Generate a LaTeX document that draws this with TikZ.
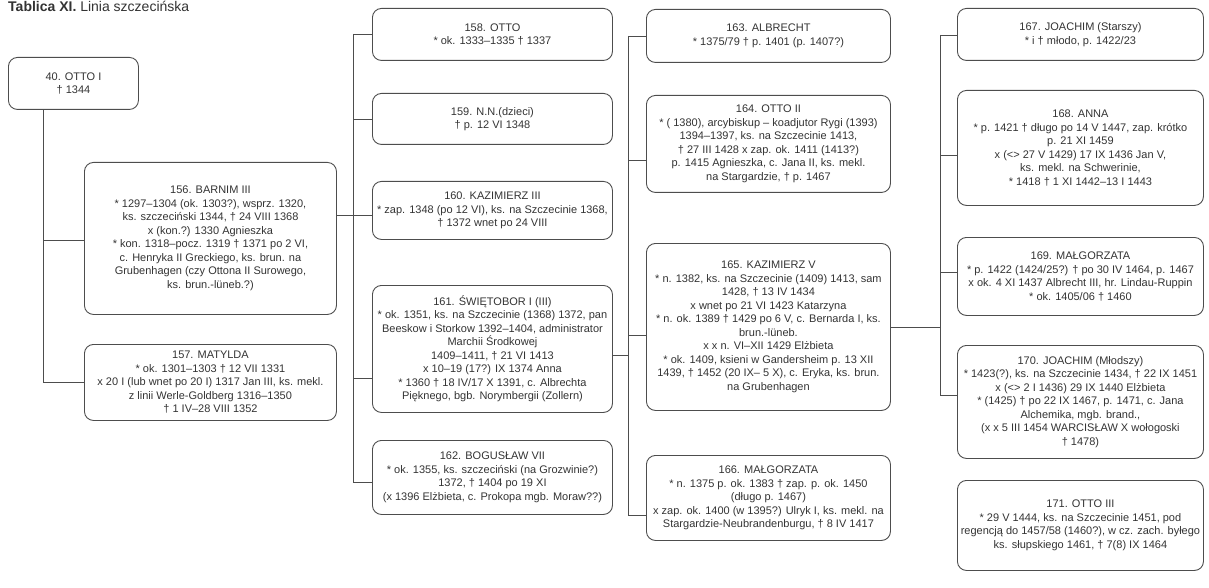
\documentclass[tikz,border=0pt]{standalone}
\usepackage{fontspec}
\setmainfont{Liberation Sans}
\definecolor{ink}{HTML}{333333}
\definecolor{edge}{HTML}{4D4D4D}
\begin{document}
\begin{tikzpicture}[x=1pt,y=-1pt,
  box/.style={draw=edge, line width=0.9pt, rounded corners=9pt, align=center, text=ink,
    font=\fontsize{11}{13.5}\selectfont, anchor=north west, inner sep=2pt},
  conn/.style={draw=edge, line width=0.9pt}]
\useasboundingbox (0,0) rectangle (1209,588);
\node[anchor=base west, font=\fontsize{14}{16}\selectfont, text=ink, inner sep=0pt] (title) at (8,12) {\textbf{Tablica XI.} Linia szczecińska};
% column 1
\node[box, minimum width=130pt, minimum height=52pt] (b40) at (8,57) {40. OTTO I\\† 1344};
\node[box, minimum width=252pt, minimum height=152pt] (b156) at (84,162) {156. BARNIM III\\* 1297–1304 (ok. 1303?), wsprz. 1320,\\ks. szczeciński 1344, † 24 VIII 1368\\x (kon.?) 1330 Agnieszka\\* kon. 1318–pocz. 1319 † 1371 po 2 VI,\\c. Henryka II Greckiego, ks. brun. na\\Grubenhagen (czy Ottona II Surowego,\\ks. brun.-lüneb.?)};
\node[box, minimum width=252pt, minimum height=76pt] (b157) at (84,344) {157. MATYLDA\\* ok. 1301–1303 † 12 VII 1331\\x 20 I (lub wnet po 20 I) 1317 Jan III, ks. mekl.\\z linii Werle-Goldberg 1316–1350\\† 1 IV–28 VIII 1352};
% column 2
\node[box, minimum width=240pt, minimum height=52pt] (b158) at (372,8) {158. OTTO\\* ok. 1333–1335 † 1337};
\node[box, minimum width=240pt, minimum height=51pt] (b159) at (372,93) {159. N.N.(dzieci)\\† p. 12 VI 1348};
\node[box, minimum width=240pt, minimum height=58pt] (b160) at (372,181) {160. KAZIMIERZ III\\* zap. 1348 (po 12 VI), ks. na Szczecinie 1368,\\† 1372 wnet po 24 VIII};
\node[box, minimum width=240pt, minimum height=127pt] (b161) at (372,285) {161. ŚWIĘTOBOR I (III)\\* ok. 1351, ks. na Szczecinie (1368) 1372, pan\\Beeskow i Storkow 1392–1404, administrator\\Marchii Środkowej\\1409–1411, † 21 VI 1413\\x 10–19 (17?) IX 1374 Anna\\* 1360 † 18 IV/17 X 1391, c. Albrechta\\Pięknego, bgb. Norymbergii (Zollern)};
\node[box, minimum width=240pt, minimum height=74pt] (b162) at (372,440) {162. BOGUSŁAW VII\\* ok. 1355, ks. szczeciński (na Grozwinie?)\\1372, † 1404 po 19 XI\\(x 1396 Elżbieta, c. Prokopa mgb. Moraw??)};
% column 3
\node[box, minimum width=244pt, minimum height=53pt] (b163) at (646,9) {163. ALBRECHT\\* 1375/79 † p. 1401 (p. 1407?)};
\node[box, minimum width=244pt, minimum height=97pt] (b164) at (646,95) {164. OTTO II\\* ( 1380), arcybiskup – koadjutor Rygi (1393)\\1394–1397, ks. na Szczecinie 1413,\\† 27 III 1428 x zap. ok. 1411 (1413?)\\p. 1415 Agnieszka, c. Jana II, ks. mekl.\\na Stargardzie, † p. 1467};
\node[box, minimum width=244pt, minimum height=167pt] (b165) at (646,243) {165. KAZIMIERZ V\\* n. 1382, ks. na Szczecinie (1409) 1413, sam\\1428, † 13 IV 1434\\x wnet po 21 VI 1423 Katarzyna\\* n. ok. 1389 † 1429 po 6 V, c. Bernarda I, ks.\\brun.-lüneb.\\x x n. VI–XII 1429 Elżbieta\\* ok. 1409, ksieni w Gandersheim p. 13 XII\\1439, † 1452 (20 IX– 5 X), c. Eryka, ks. brun.\\na Grubenhagen};
\node[box, minimum width=244pt, minimum height=85pt] (b166) at (646,455) {166. MAŁGORZATA\\* n. 1375 p. ok. 1383 † zap. p. ok. 1450\\(długo p. 1467)\\x zap. ok. 1400 (w 1395?) Ulryk I, ks. mekl. na\\Stargardzie-Neubrandenburgu, † 8 IV 1417};
% column 4
\node[box, minimum width=246pt, minimum height=52pt] (b167) at (957,8) {167. JOACHIM (Starszy)\\* i † młodo, p. 1422/23};
\node[box, minimum width=246pt, minimum height=115pt] (b168) at (957,90) {168. ANNA\\* p. 1421 † długo po 14 V 1447, zap. krótko\\p. 21 XI 1459\\x (<> 27 V 1429) 17 IX 1436 Jan V,\\ks. mekl. na Schwerinie,\\* 1418 † 1 XI 1442–13 I 1443};
\node[box, minimum width=246pt, minimum height=78pt] (b169) at (957,237) {169. MAŁGORZATA\\* p. 1422 (1424/25?) † po 30 IV 1464, p. 1467\\x ok. 4 XI 1437 Albrecht III, hr. Lindau-Ruppin\\* ok. 1405/06 † 1460};
\node[box, minimum width=246pt, minimum height=113pt] (b170) at (957,345) {170. JOACHIM (Młodszy)\\* 1423(?), ks. na Szczecinie 1434, † 22 IX 1451\\x (<> 2 I 1436) 29 IX 1440 Elżbieta\\* (1425) † po 22 IX 1467, p. 1471, c. Jana\\Alchemika, mgb. brand.,\\(x x 5 III 1454 WARCISŁAW X wołogoski\\† 1478)};
\node[box, minimum width=246pt, minimum height=90pt] (b171) at (957,480) {171. OTTO III\\* 29 V 1444, ks. na Szczecinie 1451, pod\\regencją do 1457/58 (1460?), w cz. zach. byłego\\ks. słupskiego 1461, † 7(8) IX 1464};
% connectors: 40 -> 156,157
\coordinate (j156) at (43,240);
\coordinate (j157) at (43,382);
\draw[conn] (b40.south -| j156) -- (j157) -- (b157.west |- j157);
\draw[conn] (j156) -- (b156.west |- j156);
% 156 -> 158..162
\coordinate (p156) at (353,215);
\coordinate (j158) at (353,34);
\coordinate (j159) at (353,119);
\coordinate (j160) at (353,215);
\coordinate (j161) at (353,378);
\coordinate (j162) at (353,482);
\draw[conn] (b156.east |- p156) -- (p156);
\draw[conn] (j158) -- (j162);
\foreach \n in {158,159,160,161,162} \draw[conn] (j\n) -- (b\n.west |- j\n);
% 161 -> 163..166
\coordinate (p161) at (628,355);
\coordinate (j163) at (628,36);
\coordinate (j164) at (628,160);
\coordinate (j165) at (628,335);
\coordinate (j166) at (628,515);
\draw[conn] (b161.east |- p161) -- (p161);
\draw[conn] (j163) -- (j166);
\foreach \n in {163,164,165,166} \draw[conn] (j\n) -- (b\n.west |- j\n);
% 165 -> 167..170
\coordinate (p165) at (940,327);
\coordinate (j167) at (940,35);
\coordinate (j168) at (940,155);
\coordinate (j169) at (940,272);
\coordinate (j170) at (940,395);
\draw[conn] (b165.east |- p165) -- (p165);
\draw[conn] (j167) -- (j170);
\foreach \n in {167,168,169,170} \draw[conn] (j\n) -- (b\n.west |- j\n);
\end{tikzpicture}
\end{document}
